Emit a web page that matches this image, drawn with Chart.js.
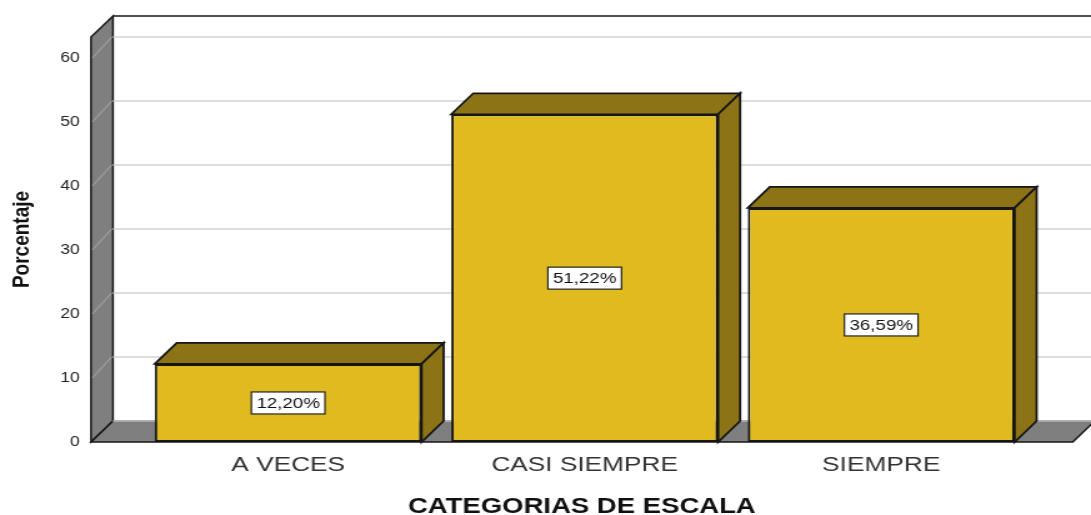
<!DOCTYPE html>
<html>
<head>
<meta charset="utf-8">
<title>Categorias de escala</title>
<script src="https://cdn.jsdelivr.net/npm/chart.js@4/dist/chart.umd.min.js"></script>
<style>
  body { margin: 0; background: #fff; }
</style>
</head>
<body>
<!-- drawn narrow and shown wide, like the exported chart -->
<canvas id="grafico" width="873" height="515" style="display:block;width:1091px;height:515px"></canvas>
<script>
const categorias = ['A VECES', 'CASI SIEMPRE', 'SIEMPRE'];
const porcentajes = [12.20, 51.22, 36.59];
const ticksY = [0, 10, 20, 30, 40, 50, 60];

// 3d depth of walls and bars
const PROF_X = 17.6;
const PROF_Y = 21;

const AMARILLO = '#E0BB20';
const OSCURO = '#8B7316';
const GRIS = '#7F7F7F';
const BORDE = '#161616';
const FUENTE = '"Liberation Sans", Arial, sans-serif';

function poly(ctx, pts, fill, stroke, lw) {
    ctx.beginPath();
    ctx.moveTo(pts[0][0], pts[0][1]);
    for (let i = 1; i < pts.length; i++) ctx.lineTo(pts[i][0], pts[i][1]);
    ctx.closePath();
    if (fill) { ctx.fillStyle = fill; ctx.fill(); }
    if (stroke) { ctx.strokeStyle = stroke; ctx.lineWidth = lw || 1.5; ctx.stroke(); }
}

// walls, floor, grid and the top/side faces of the bars
const caja3d = {
    id: 'caja3d',
    beforeDatasetsDraw(chart) {
        const ctx = chart.ctx;
        const a = chart.chartArea;
        const y = chart.scales.y;
        const L = a.left, R = a.right, T = a.top, B = a.bottom;
        ctx.save();

        // back wall
        ctx.fillStyle = '#fff';
        ctx.fillRect(L + PROF_X, T - PROF_Y, chart.width - L - PROF_X, B - T);

        // left wall and floor
        poly(ctx, [[L, B], [L, T], [L + PROF_X, T - PROF_Y], [L + PROF_X, B - PROF_Y]], GRIS, BORDE, 1.5);
        poly(ctx, [[L, B], [R, B], [R + PROF_X, B - PROF_Y], [L + PROF_X, B - PROF_Y]], GRIS, BORDE, 1.5);

        // grid lines
        ticksY.forEach(v => {
            const py = y.getPixelForValue(v);
            ctx.beginPath();
            ctx.strokeStyle = '#d2d2d2';
            ctx.lineWidth = 1.5;
            ctx.moveTo(L + PROF_X, py - PROF_Y);
            ctx.lineTo(chart.width, py - PROF_Y);
            ctx.stroke();
            if (v > 0) {
                ctx.beginPath();
                ctx.strokeStyle = '#a9a9a9';
                ctx.lineWidth = 1;
                ctx.moveTo(L + 1, py);
                ctx.lineTo(L + PROF_X - 1, py - PROF_Y);
                ctx.stroke();
            }
        });

        // top edge of the back wall
        ctx.beginPath();
        ctx.strokeStyle = BORDE;
        ctx.lineWidth = 1.5;
        ctx.moveTo(L + PROF_X, T - PROF_Y);
        ctx.lineTo(chart.width, T - PROF_Y);
        ctx.stroke();

        // bar tops and sides
        chart.getDatasetMeta(0).data.forEach(bar => {
            const p = bar.getProps(['x', 'y', 'base', 'width'], true);
            const l = p.x - p.width / 2, r = p.x + p.width / 2;
            poly(ctx, [[l, p.y], [l + PROF_X, p.y - PROF_Y], [r + PROF_X, p.y - PROF_Y], [r, p.y]], OSCURO, BORDE, 1.8);
            poly(ctx, [[r, p.y], [r + PROF_X, p.y - PROF_Y], [r + PROF_X, p.base - PROF_Y], [r, p.base]], OSCURO, BORDE, 1.8);
        });
        ctx.restore();
    },
    afterDatasetsDraw(chart) {
        const ctx = chart.ctx;
        ctx.save();
        ctx.font = '15px ' + FUENTE;
        ctx.textAlign = 'center';
        ctx.textBaseline = 'middle';
        chart.getDatasetMeta(0).data.forEach((bar, i) => {
            const p = bar.getProps(['x', 'y', 'base'], true);
            const txt = porcentajes[i].toFixed(2).replace('.', ',') + '%';
            const cy = (p.y + p.base) / 2;
            const w = ctx.measureText(txt).width + 8;
            const h = 22;
            ctx.fillStyle = '#fff';
            ctx.fillRect(p.x - w / 2, cy - h / 2, w, h);
            ctx.strokeStyle = '#222';
            ctx.lineWidth = 1.2;
            ctx.strokeRect(p.x - w / 2, cy - h / 2, w, h);
            ctx.fillStyle = '#111';
            ctx.fillText(txt, p.x, cy + 1);
        });
        ctx.restore();
    }
};

const grafico = new Chart(document.getElementById('grafico'), {
    type: 'bar',
    data: {
        datasets: [{
            data: porcentajes.map((v, i) => ({ x: i, y: v })),
            backgroundColor: AMARILLO,
            borderColor: BORDE,
            borderWidth: 2,
            borderSkipped: false,
            barPercentage: 0.9,
            categoryPercentage: 1
        }]
    },
    options: {
        responsive: false,
        animation: false,
        devicePixelRatio: 1,
        layout: { padding: { top: 37, right: 14.6, left: 0, bottom: 0 } },
        plugins: { legend: { display: false }, tooltip: { enabled: false } },
        scales: {
            x: {
                type: 'linear',
                offset: false,
                min: -0.665,
                max: 2.646,
                grid: { display: false, drawTicks: false },
                border: { display: false },
                afterBuildTicks: s => { s.ticks = categorias.map((c, i) => ({ value: i })); },
                afterFit: s => { s.height = 73; },
                ticks: {
                    padding: 11,
                    color: '#333',
                    font: { family: FUENTE, size: 21 },
                    callback: v => categorias[v] ?? ''
                },
                title: {
                    display: true,
                    text: 'CATEGORIAS DE ESCALA',
                    color: '#111',
                    font: { family: FUENTE, size: 22, weight: 'bold', lineHeight: 0.8 },
                    padding: { top: 0, bottom: -1 }
                }
            },
            y: {
                min: 0,
                max: 63.3,
                grid: { display: false, drawTicks: false },
                border: { display: false },
                afterBuildTicks: s => { s.ticks = ticksY.map(v => ({ value: v })); },
                afterFit: s => { s.width = 72.8; },
                ticks: {
                    padding: 9,
                    color: '#222',
                    font: { family: FUENTE, size: 14 }
                },
                title: {
                    display: true,
                    text: 'Porcentaje',
                    color: '#111',
                    font: { family: FUENTE, size: 19, weight: 'bold' },
                    padding: { top: 6, bottom: 0 }
                }
            }
        }
    },
    plugins: [caja3d]
});
</script>
</body>
</html>
